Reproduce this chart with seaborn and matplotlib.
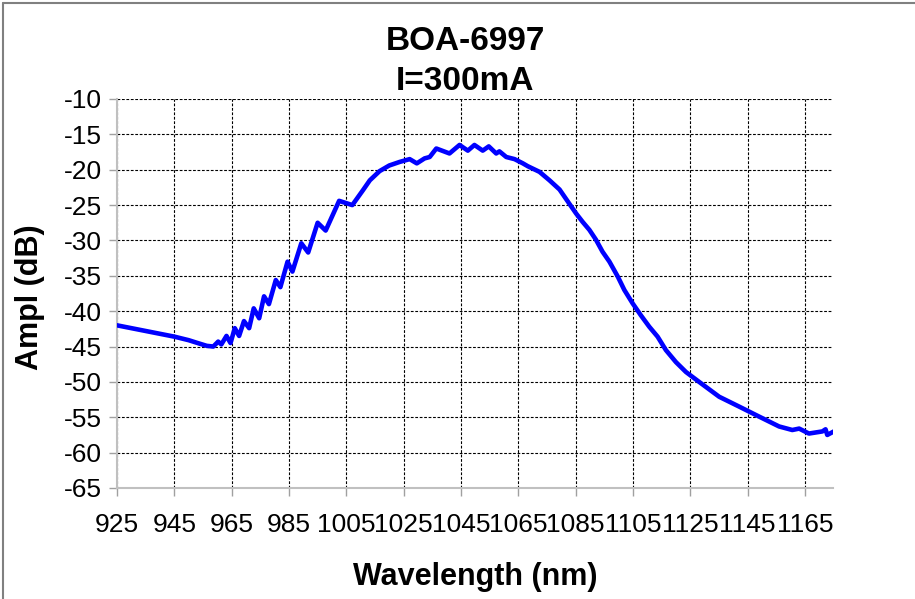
import numpy as np
import pandas as pd
import matplotlib
matplotlib.use("Agg")
import matplotlib.pyplot as plt
import seaborn as sns
from matplotlib.lines import Line2D

# Spectrum
wavelength = [925, 935, 945, 950, 953.9, 956.3, 958.6, 960.3, 961.4, 963.2, 964.6,
              966.1, 967.6, 969.3, 971.1, 972.7, 974.6, 976.3, 978.0, 980.4, 982.0,
              984.5, 986.2, 989.3, 991.7, 995.0, 997.8, 1002.5, 1007.1, 1010.8, 1013.2,
              1016.6, 1020.0, 1023.6, 1027.1, 1029.6, 1032.3, 1034.1, 1036.4, 1041.0,
              1044.5, 1047.4, 1049.7, 1052.6, 1054.7, 1057.3, 1058.4, 1060.8, 1063.7,
              1066.6, 1068.3, 1072.4, 1075.9, 1079.4, 1082.8, 1085.2, 1087.5, 1089.8,
              1092.1, 1094.4, 1096.8, 1099.7, 1102.0, 1104.9, 1107.8, 1110.7, 1113.6,
              1116.5, 1120.0, 1123.5, 1128.1, 1135.1, 1142.1, 1149.0, 1156.0, 1160.6,
              1163.0, 1166.4, 1171.1, 1172.2, 1172.8, 1175.1]
ampl_db = [-42.0, -42.8, -43.6, -44.1, -44.6, -44.9, -45.0, -44.3, -44.7, -43.5, -44.5,
           -42.4, -43.5, -41.4, -42.4, -39.6, -41.0, -37.9, -39.0, -35.6, -36.6,
           -33.0, -34.4, -30.4, -31.7, -27.5, -28.6, -24.4, -25.0, -22.9, -21.5,
           -20.2, -19.4, -18.9, -18.5, -19.1, -18.4, -18.2, -17.0, -17.7,
           -16.5, -17.3, -16.5, -17.3, -16.7, -17.7, -17.4, -18.2, -18.5,
           -19.1, -19.5, -20.3, -21.5, -22.8, -24.8, -26.2, -27.4, -28.5,
           -29.9, -31.6, -33.0, -35.1, -37.0, -38.9, -40.6, -42.2, -43.6,
           -45.5, -47.2, -48.6, -50.0, -52.1, -53.5, -54.9, -56.3, -56.8,
           -56.6, -57.3, -57.0, -56.7, -57.5, -57.0]

x_ticks = list(range(925, 1166, 20))
y_ticks = list(range(-65, -9, 5))

df = pd.DataFrame({"Wavelength": wavelength, "Ampl": ampl_db})

sns.set_theme(style="white")
plt.rcParams["font.family"] = ["Liberation Sans", "DejaVu Sans"]
plt.rcParams["axes.unicode_minus"] = False
plt.rcParams["text.color"] = "black"
plt.rcParams["xtick.color"] = "black"
plt.rcParams["ytick.color"] = "black"

fig = plt.figure(figsize=(9.15, 5.99), dpi=100)
ax = fig.add_axes([117 / 915, 1 - 488 / 599, (833 - 117) / 915, (488 - 99) / 599])

sns.lineplot(data=df, x="Wavelength", y="Ampl", ax=ax, color="#0000ff",
             linewidth=3.3, estimator=None, sort=False, zorder=3)

ax.set_xlim(925, 1174.8)
ax.set_ylim(-65, -10)
ax.set_xticks(x_ticks)
ax.set_yticks(y_ticks)
ax.set_xlabel("")
ax.set_ylabel("")

ax.set_axisbelow(True)
ax.grid(True, color="black", linestyle=(0, (2.5, 1.5)), linewidth=0.8)

for side in ["top", "right"]:
    ax.spines[side].set_visible(False)
for side in ["left", "bottom"]:
    ax.spines[side].set_color("#c0c0c0")
    ax.spines[side].set_linewidth(1.5)

ax.tick_params(axis="both", which="major", direction="out", length=6, width=1,
               color="#a0a0a0", labelsize=19, labelcolor="black")
ax.tick_params(axis="x", pad=12)
ax.tick_params(axis="y", pad=5, left=True)
ax.xaxis.set_ticks_position("bottom")
ax.yaxis.set_ticks_position("left")

# Titles and labels
fig.text(465 / 915, 1 - 42 / 599, "BOA-6997", ha="center", va="center",
         fontsize=24, fontweight="bold", color="black")
fig.text(465 / 915, 1 - 82 / 599, "I=300mA", ha="center", va="center",
         fontsize=24, fontweight="bold", color="black")
fig.text(475 / 915, 1 - 577 / 599, "Wavelength (nm)", ha="center", va="center",
         fontsize=22, fontweight="bold", color="black")
fig.text(30 / 915, 1 - 297 / 599, "Ampl (dB)", ha="center", va="center",
         rotation=90, fontsize=22, fontweight="bold", color="black")

# Chart-area border (top and left edges)
fig.add_artist(Line2D([3 / 915, 1], [1 - 3 / 599, 1 - 3 / 599], transform=fig.transFigure,
                      color="#808080", linewidth=1.5))
fig.add_artist(Line2D([3 / 915, 3 / 915], [0, 1 - 3 / 599], transform=fig.transFigure,
                      color="#808080", linewidth=1.5))

fig.savefig("out.png", dpi=100)
